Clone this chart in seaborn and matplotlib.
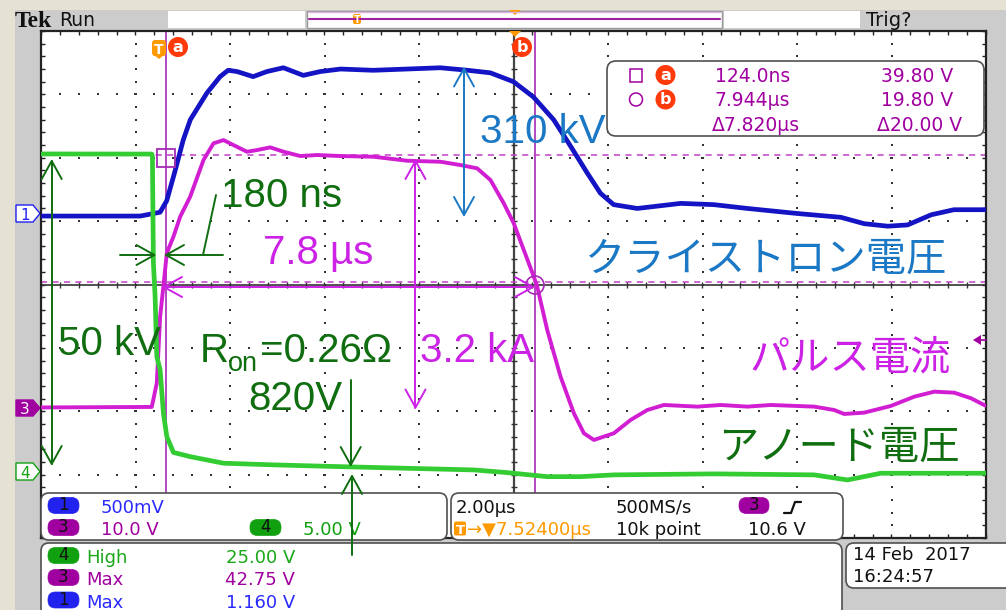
import numpy as np
import matplotlib
matplotlib.use("Agg")
import matplotlib.pyplot as plt
import seaborn as sns
import pandas as pd
from matplotlib.patches import Rectangle, FancyBboxPatch, Circle, Polygon

# ---------------- data read from the scope screen ----------------
# time in microseconds, amplitude in channel volts
ch1_time = [-2.52, -0.42, 0.00, 0.14, 0.32, 0.49, 0.64, 0.99, 1.27, 1.44, 1.63, 1.97, 2.26,
            2.61, 3.03, 3.39, 3.82, 4.51, 5.23, 5.93, 6.51, 6.99, 7.48, 7.90, 8.33, 8.69,
            9.04, 9.32, 9.60, 10.10, 11.02, 11.72, 12.43, 13.49, 14.41, 14.90, 15.40,
            15.82, 16.32, 16.80, 17.48]
ch1_volts = [-0.01, -0.01, 0.02, 0.11, 0.35, 0.59, 0.75, 0.96, 1.09, 1.14, 1.13, 1.09, 1.13,
             1.16, 1.10, 1.13, 1.15, 1.14, 1.15, 1.16, 1.14, 1.12, 1.05, 0.93, 0.75, 0.54,
             0.33, 0.17, 0.08, 0.05, 0.09, 0.08, 0.05, 0.01, -0.02, -0.07, -0.09,
             -0.08, 0.00, 0.04, 0.04]

ch3_time = [-2.52, -0.175, -0.069, 0.001, 0.071, 0.143, 0.283, 0.425, 0.637, 0.919, 1.13,
            1.342, 1.554, 1.838, 2.05, 2.332, 2.613, 2.967, 3.321, 3.815, 4.52, 5.228, 5.933,
            6.357, 6.711, 6.993, 7.274, 7.486, 7.698, 7.91, 7.982, 8.194, 8.476, 8.758,
            8.969, 9.181, 9.605, 9.959, 10.313, 10.664, 11.372, 11.866, 12.431, 12.925,
            13.842, 14.266, 14.478, 14.902, 15.467, 15.961, 16.385, 16.808, 17.162, 17.48]
ch3_volts = [0.0, 0.08, 3.86, 14.32, 19.16, 24.37, 26.94, 30.09, 33.25, 39.04, 41.67,
             42.19, 41.4, 40.35, 40.61, 41.04, 40.35, 39.67, 39.83, 39.67, 39.56, 38.93, 38.77,
             38.25, 37.73, 35.88, 32.21, 29.05, 24.84, 20.63, 19.05, 12.22, 4.86, -0.92,
             -4.07, -5.13, -4.07, -1.97, -0.40, 0.39, 0.13, 0.39, 0.13, 0.39,
             0.13, -0.40, -1.03, -0.82, 0.24, 1.70, 2.49, 2.33, 1.45, 0.24]

ch4_time = [-2.52, -0.175, -0.162, -0.141, -0.105, -0.069, 0.001, 0.071, 0.143, 0.283,
            0.637, 1.342, 2.401, 3.815, 5.228, 6.639, 7.346, 8.194, 8.899, 9.605, 11.723,
            13.842, 14.55, 15.255, 17.48]
ch4_volts = [25.0, 24.99, 24.78, 16.4, 13.74, 9.01, 7.96, 4.54, 2.70, 1.45,
             1.12, 0.60, 0.47, 0.33, 0.20, 0.07, -0.14, -0.46, -0.46, -0.32, -0.24,
             -0.32, -0.72, -0.19, -0.19]

# channel settings (volts/div, ground position in div)
ch1_scale, ch1_pos = 0.5, 1.10
ch3_scale, ch3_pos = 10.0, -1.94
ch4_scale, ch4_pos = 5.0, -2.94
time_per_div = 2.0
t_left = -2.52
cursor_times = [0.124, 7.944]
cursor_levels = [39.80, 19.80]
trigger_level = 10.6

readout_times = ["124.0ns", "7.944µs", "Δ7.820µs"]
readout_volts = ["39.80 V", "19.80 V", "Δ20.00 V"]
meas_labels = ["High", "Max", "Max"]
meas_values = ["25.00 V", "42.75 V", "1.160 V"]
meas_channels = ["4", "3", "1"]

# ---------------- figure ----------------
sns.set_theme(style="white")
plt.rcParams['font.family'] = ['DejaVu Sans', 'Noto Sans CJK JP']
W, H = 1006, 610
fig = plt.figure(figsize=(W / 100, H / 100), dpi=100, facecolor='#E5E1D3')

bg = fig.add_axes([0, 0, 1, 1], zorder=0)
bg.set_xlim(0, W); bg.set_ylim(H, 0); bg.axis('off')
bg.add_patch(Rectangle((15, 10), W - 15, H, color='#CCCCCC', lw=0))
# top bar
bg.text(15, 27, "Tek", family='Liberation Serif', weight='bold', fontsize=17, va='baseline', color='#111111')
bg.text(59, 26.5, "Run", fontsize=13.5, va='baseline', color='#111111')
bg.add_patch(Rectangle((168, 11), 137, 17, color='white', lw=0))
bg.add_patch(Rectangle((307, 11), 415, 17, facecolor='white', edgecolor='#999999', lw=1))
bg.plot([309, 720], [12, 12], color='#E0B0E0', lw=1)
bg.plot([309, 720], [19, 19], color='#A020A0', lw=1.5)
bg.add_patch(FancyBboxPatch((353, 14), 8, 10, boxstyle='round,pad=0,rounding_size=2', color='#FF9900', lw=0))
bg.text(357, 23, "T", fontsize=7, color='white', ha='center', va='baseline', weight='bold')
bg.add_patch(Polygon([[509, 10], [521, 10], [515, 15]], color='#FF9900', lw=0))
bg.add_patch(Rectangle((724, 11), 136, 17, color='white', lw=0))
bg.text(866, 26, "Trig?", fontsize=14, va='baseline', color='#111111')

# channel ground markers
bg.add_patch(Polygon([[16, 205], [33, 205], [40, 213.5], [33, 222], [16, 222]],
                     facecolor='white', edgecolor='#2020F0', lw=1))
bg.text(25, 219.5, "1", fontsize=11, color='#2020F0', ha='center', va='baseline')
bg.add_patch(Polygon([[16, 400], [33, 400], [40, 408], [33, 416], [16, 416]],
                     facecolor='#A000A0', edgecolor='#A000A0', lw=1))
bg.text(25, 413.5, "3", fontsize=11, color='white', ha='center', va='baseline')
bg.add_patch(Polygon([[16, 463], [33, 463], [40, 471.5], [33, 480], [16, 480]],
                     facecolor='white', edgecolor='#10A010', lw=1))
bg.text(25, 477.5, "4", fontsize=11, color='#10A010', ha='center', va='baseline')

# ---------------- graticule ----------------
ax = fig.add_axes([41 / W, (H - 538) / H, 945 / W, 507 / H], zorder=1)
ax.set_facecolor('white')
t_right = t_left + 10 * time_per_div
t_center = t_left + 5 * time_per_div
ax.set_xlim(t_left, t_right)
ax.set_ylim(-4, 4)
for s in ax.spines.values():
    s.set_color('#222222'); s.set_linewidth(1.6)
minor_x = np.arange(t_left, t_right + 1e-6, time_per_div / 5)
minor_y = np.arange(-4, 4 + 1e-6, 0.2)
ax.set_xticks(minor_x); ax.set_yticks(minor_y)
ax.tick_params(axis='both', which='major', direction='in', length=3, width=1, color='#222222',
               top=True, right=True, bottom=True, left=True,
               labelbottom=False, labelleft=False)
# dotted major lines
for k in range(1, 10):
    if k == 5:
        continue
    xk = t_left + k * time_per_div
    ax.scatter(np.full(len(minor_y), xk), minor_y, s=2.2, marker='s', color='#333333', lw=0, zorder=1)
for j in range(-3, 4):
    if j == 0:
        continue
    ax.scatter(minor_x, np.full(len(minor_x), j), s=2.2, marker='s', color='#333333', lw=0, zorder=1)
# center axes with ticks
ax.axvline(t_center, color='#444444', lw=1.6, zorder=1)
ax.axhline(0, color='#333333', lw=1.2, zorder=1)
ax.plot(minor_x, np.zeros(len(minor_x)), ls='none', marker='|', ms=5, mew=1, color='#333333', zorder=1)
ax.plot(np.full(len(minor_y), t_center), minor_y, ls='none', marker='_', ms=5, mew=1, color='#333333', zorder=1)

# cursors
cur_col = '#A52AB5'
for tc in cursor_times:
    ax.axvline(tc, color=cur_col, lw=1.2, zorder=2)
for lv in cursor_levels:
    ax.axhline(lv / ch3_scale + ch3_pos, color='#C040C8', lw=1.1, dashes=(4, 3.5), zorder=2)

# traces
traces = [
    (ch1_time, ch1_volts, ch1_scale, ch1_pos, '#1414C4', 3.4),
    (ch3_time, ch3_volts, ch3_scale, ch3_pos, '#D21ED2', 2.8),
    (ch4_time, ch4_volts, ch4_scale, ch4_pos, '#33CC33', 3.4),
]
for tt, vv, sc, pos, col, lw in traces:
    df = pd.DataFrame({'t': tt, 'div': np.array(vv) / sc + pos})
    sns.lineplot(data=df, x='t', y='div', ax=ax, color=col, lw=lw, estimator=None, sort=False, zorder=3)
ax.set_xlabel(''); ax.set_ylabel('')

# ---------------- overlay (pixel coordinates) ----------------
ov = fig.add_axes([0, 0, 1, 1], zorder=2)
ov.set_xlim(0, W); ov.set_ylim(H, 0); ov.axis('off')

def rbox(x, y, w, h, fc='white', ec='#505050', r=8, lw=1.2, z=1):
    ov.add_patch(FancyBboxPatch((x, y), w, h, boxstyle=f'round,pad=0,rounding_size={r}',
                                facecolor=fc, edgecolor=ec, lw=lw, zorder=z))

def pill(x, y, label, fc, w=31, h=16):
    rbox(x, y, w, h, fc=fc, ec=fc, r=7.5, lw=0.5, z=2)
    ov.text(x + w / 2, y + h - 3, label, fontsize=12, color='#111111', ha='center', va='baseline', zorder=3)

# top markers
ov.add_patch(FancyBboxPatch((152, 40), 14, 16, boxstyle='round,pad=0,rounding_size=3', color='#FF9900', lw=0, zorder=4))
ov.add_patch(Polygon([[154, 55], [164, 55], [159, 59]], color='#FF9900', lw=0, zorder=4))
ov.text(159, 54, "T", fontsize=10, weight='bold', color='white', ha='center', va='baseline', zorder=5)
for cx, lab in [(178, "a"), (522, "b")]:
    ov.add_patch(Circle((cx, 47), 10, color='#FF3A0A', lw=0, zorder=4))
    ov.text(cx, 52, lab, fontsize=11.5, weight='bold', color='white', ha='center', va='baseline', zorder=5)
ov.add_patch(Polygon([[509, 31], [521, 31], [515, 37]], color='#FF9900', lw=0, zorder=4))

# cursor markers
ov.add_patch(Rectangle((157, 148.5), 18, 18, fill=False, edgecolor=cur_col, lw=1.3, zorder=4))
ov.add_patch(Circle((535, 285), 9, fill=False, edgecolor=cur_col, lw=1.2, zorder=4))
# trigger level marker
ov.add_patch(Polygon([[973, 340], [981, 335], [981, 345]], color='#A000A0', lw=0, zorder=4))
ov.plot([981, 986], [340, 340], color='#A000A0', lw=1.2, zorder=4)

# cursor readout
rbox(607, 61, 377, 75, r=9)
rc = '#A000A0'
ov.add_patch(Rectangle((630, 68.5), 12, 13, fill=False, edgecolor=rc, lw=1.1, zorder=3))
ov.add_patch(Circle((636, 99.5), 6.5, fill=False, edgecolor=rc, lw=1.1, zorder=3))
for cy, lab in [(75, "a"), (99.5, "b")]:
    ov.add_patch(Circle((665.5, cy), 10, color='#FF3A0A', lw=0, zorder=3))
    ov.text(665.5, cy + 5, lab, fontsize=11.5, weight='bold', color='white', ha='center', va='baseline', zorder=4)
for i, (tx, vx) in enumerate(zip(readout_times, readout_volts)):
    yb = [82, 106.5, 131][i]
    ov.text(800 if i == 2 else 790, yb, tx, fontsize=13.5, color=rc, ha='right', va='baseline', zorder=3)
    ov.text(962 if i == 2 else 953, yb, vx, fontsize=13.5, color=rc, ha='right', va='baseline', zorder=3)

# bottom panels
rbox(41, 493, 406, 47)
rbox(451, 493, 392, 47)
rbox(41, 543, 801, 90)
rbox(846, 543, 180, 45)
pill(48, 497.5, "1", '#2222EE')
ov.text(101, 513, "500mV", fontsize=13, color='#2A2AFF', va='baseline', zorder=3)
pill(48, 519.5, "3", '#A000A0')
ov.text(101, 535, "10.0 V", fontsize=13, color='#A000A0', va='baseline', zorder=3)
pill(250, 519.5, "4", '#10A010')
ov.text(303, 535, "5.00 V", fontsize=13, color='#10A010', va='baseline', zorder=3)

ov.text(456, 513, "2.00µs", fontsize=13, color='#111111', va='baseline', zorder=3)
ov.text(616, 513, "500MS/s", fontsize=13, color='#111111', va='baseline', zorder=3)
pill(739, 497.5, "3", '#A000A0', w=30)
ov.plot([784, 791, 795, 801], [513, 513, 502, 502], color='#111111', lw=1.6, zorder=3)
ov.add_patch(FancyBboxPatch((454, 521.5), 12, 14, boxstyle='round,pad=0,rounding_size=2', color='#FF9900', lw=0, zorder=3))
ov.text(460, 533.5, "T", fontsize=9.5, weight='bold', color='white', ha='center', va='baseline', zorder=4)
ov.text(467, 535, "→▼7.52400µs", fontsize=13, color='#FF9900', va='baseline', zorder=3)
ov.text(616, 535, "10k point", fontsize=13, color='#111111', va='baseline', zorder=3)
ov.text(748, 535, "10.6 V", fontsize=13, color='#111111', va='baseline', zorder=3)

meas_cols = {'4': '#10A010', '3': '#A000A0', '1': '#2222EE'}
meas_txt = {'4': '#18A818', '3': '#A000A0', '1': '#2A2AFF'}
for i, (ch, lab, val) in enumerate(zip(meas_channels, meas_labels, meas_values)):
    yb = [563, 585, 607.5][i]
    pill(48, yb - 15.5, ch, meas_cols[ch])
    ov.text(86, yb, lab, fontsize=13, color=meas_txt[ch], va='baseline', zorder=3)
    ov.text(295, yb, val, fontsize=13, color=meas_txt[ch], ha='right', va='baseline', zorder=3)
ov.text(853, 560, "14 Feb  2017", fontsize=13, color='#111111', va='baseline', zorder=3)
ov.text(853, 581.5, "16:24:57", fontsize=13, color='#111111', va='baseline', zorder=3)

# ---------------- annotations ----------------
g_col = '#106E10'
b_col = '#1A78C4'
m_col = '#CC22E6'
AF = 'Liberation Sans'
JF = ['Noto Sans CJK JP']

def head(tip, frm, color, length=18, half=10, lw=1.4):
    tx, ty = tip
    fx, fy = frm
    dx, dy = tx - fx, ty - fy
    L = np.hypot(dx, dy)
    ux, uy = dx / L, dy / L
    px, py = -uy, ux
    bx, by = tx - ux * length, ty - uy * length
    ov.plot([bx + px * half, tx, bx - px * half], [by + py * half, ty, by - py * half],
            color=color, lw=lw, zorder=6, solid_capstyle='round')

def dbl(p0, p1, color, lw=1.4):
    ov.plot([p0[0], p1[0]], [p0[1], p1[1]], color=color, lw=lw, zorder=6)
    head(p0, p1, color)
    head(p1, p0, color)

# 50 kV
dbl((51.7, 161), (51.7, 464), g_col)
ov.text(58, 355, "50 kV", family=AF, fontsize=29, color=g_col, va='baseline', zorder=6)
# 180 ns
ov.plot([120, 154.5], [255, 255], color=g_col, lw=1.4, zorder=6)
head((154.5, 255), (120, 255), g_col)
ov.plot([166, 223], [255, 255], color=g_col, lw=1.4, zorder=6)
head((166, 255), (223, 255), g_col)
ov.plot([203, 216], [255, 195], color=g_col, lw=1.4, zorder=6)
ov.text(221, 207, "180 ns", family=AF, fontsize=29, color=g_col, va='baseline', zorder=6)
# R_on and 820V
ov.text(200, 362, "R", family=AF, fontsize=29, color=g_col, va='baseline', zorder=6)
ov.text(228, 371, "on", family=AF, fontsize=19.5, color=g_col, va='baseline', zorder=6)
ov.text(260, 362, "=0.26Ω", family=AF, fontsize=29, color=g_col, va='baseline', zorder=6)
ov.text(248, 410, "820V", family=AF, fontsize=29, color=g_col, va='baseline', zorder=6)
ov.plot([350.7, 350.7], [380, 465], color=g_col, lw=1.4, zorder=6)
head((350.7, 465), (350.7, 380), g_col)
ov.plot([352, 352], [476, 555], color=g_col, lw=1.4, zorder=6)
head((352, 476), (352, 555), g_col)
ov.text(718, 459, "アノード電圧", family=JF, fontsize=29, color=g_col, va='baseline', zorder=6)

# 310 kV
dbl((464, 68.5), (464, 215), b_col)
ov.text(480, 143, "310 kV", family=AF, fontsize=29, color=b_col, va='baseline', zorder=6)
ov.text(584, 271, "クライストロン電圧", family=JF, fontsize=29, color=b_col, va='baseline', zorder=6)

# 7.8 us and 3.2 kA
dbl((164, 287), (533, 287), m_col)
ov.text(263, 264, "7.8 µs", family=AF, fontsize=29, color=m_col, va='baseline', zorder=6)
dbl((415.5, 161), (415.5, 407.5), m_col)
ov.text(420, 362, "3.2 kA", family=AF, fontsize=29, color=m_col, va='baseline', zorder=6)
ov.text(749, 369, "パルス電流", family=JF, fontsize=29, color=m_col, va='baseline', zorder=6)

fig.savefig("out.png", dpi=100, facecolor=fig.get_facecolor())
